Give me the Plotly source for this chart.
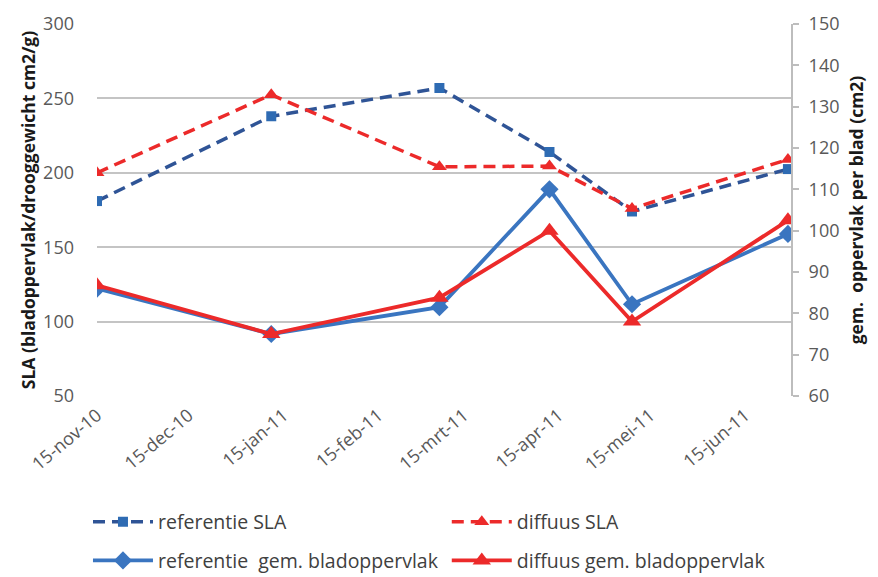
import plotly.graph_objects as go

# meetdata (datums van de bemonstering)
dates = ['2010-11-15', '2011-01-11', '2011-03-07', '2011-04-12', '2011-05-09', '2011-06-29']
ref_sla = [181, 238, 257, 214, 174, 202.5]
dif_sla = [200, 252.5, 204, 204.5, 176, 209]
ref_opp = [86, 75, 81.5, 110, 82.2, 99.2]
dif_opp = [86.8, 75, 83.8, 100, 78, 102.5]

tick_dates = ['2010-11-15', '2010-12-15', '2011-01-15', '2011-02-15',
              '2011-03-15', '2011-04-15', '2011-05-15', '2011-06-15']
tick_labels = ['15-nov-10', '15-dec-10', '15-jan-11', '15-feb-11',
               '15-mrt-11', '15-apr-11', '15-mei-11', '15-jun-11']

blue_dark = '#2F5496'
blue = '#3A75C0'
red = '#EC2A2A'
grey = '#595959'
font = 'Open Sans'

fig = go.Figure()
fig.add_trace(go.Scatter(x=dates, y=ref_sla, name='referentie SLA', mode='lines+markers',
                         line=dict(color=blue_dark, width=3.5, dash='12px,7px'),
                         marker=dict(symbol='square', size=10, color='#2E6BB3'),
                         legend='legend'))
fig.add_trace(go.Scatter(x=dates, y=dif_sla, name='diffuus SLA', mode='lines+markers',
                         line=dict(color=red, width=3.5, dash='12px,7px'),
                         marker=dict(symbol='triangle-up', size=13, color=red),
                         legend='legend2'))
fig.add_trace(go.Scatter(x=dates, y=ref_opp, name='referentie  gem. bladoppervlak', mode='lines+markers',
                         line=dict(color=blue, width=3.8),
                         marker=dict(symbol='diamond', size=14, color=blue),
                         yaxis='y2', legend='legend3'))
fig.add_trace(go.Scatter(x=dates, y=dif_opp, name='diffuus gem. bladoppervlak', mode='lines+markers',
                         line=dict(color=red, width=3.8),
                         marker=dict(symbol='triangle-up', size=16, color=red),
                         yaxis='y2', legend='legend4'))

legend_style = dict(orientation='h', xanchor='left', yanchor='middle', yref='container',
                    itemwidth=60, font=dict(size=19.5, color='#404040'), bgcolor='rgba(0,0,0,0)')

# the page body adds an 8px offset, margins compensate for it
fig.update_layout(
    width=878, height=577,
    margin=dict(l=89, r=95, t=16, b=189),
    plot_bgcolor='white', paper_bgcolor='white',
    font=dict(family=font, color=grey, size=16),
    showlegend=True,
    xaxis=dict(type='date', range=['2010-11-15', '2011-06-30'], automargin=False,
               tickvals=tick_dates, ticktext=tick_labels, tickangle=-40,
               ticks='outside', ticklen=1, tickcolor='rgba(0,0,0,0)',
               showgrid=False, zeroline=False, showline=False,
               tickfont=dict(size=18, color=grey)),
    yaxis=dict(range=[50, 300], dtick=50, showgrid=True, gridcolor='#C4C4C4', gridwidth=2,
               zeroline=False, showline=False, ticks='', ticklabelstandoff=22, automargin=False,
               tickfont=dict(size=18, color=grey),
               title=dict(text='<b>SLA (bladoppervlak/drooggewicht cm2/g)</b>',
                          font=dict(size=17.5, color='#1A1A1A'), standoff=2)),
    yaxis2=dict(range=[60, 150], dtick=10, overlaying='y', side='right', showgrid=False,
                zeroline=False, showline=True, linecolor='#BDBDBD', linewidth=2, automargin=False,
                ticks='outside', ticklen=6, tickcolor='#BDBDBD', tickwidth=2,
                ticklabelstandoff=6, tickfont=dict(size=18, color=grey),
                title=dict(text='<b>gem.  oppervlak per blad (cm2)</b>',
                           font=dict(size=17.5, color='#1A1A1A'), standoff=12)),
    legend=dict(legend_style, x=-0.013, y=0.109),
    legend2=dict(legend_style, x=0.504, y=0.109),
    legend3=dict(legend_style, x=-0.013, y=0.042),
    legend4=dict(legend_style, x=0.504, y=0.042),
)

fig.write_html('out.html')
